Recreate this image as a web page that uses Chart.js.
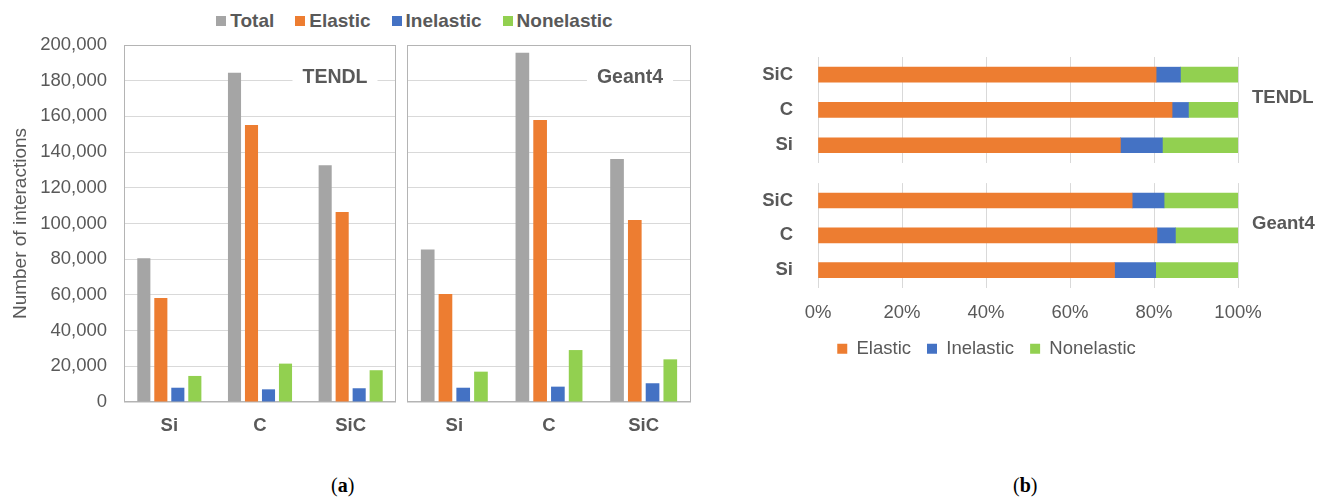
<!DOCTYPE html>
<html>
<head>
<meta charset="utf-8">
<script src="https://cdn.jsdelivr.net/npm/chart.js@4.4.1/dist/chart.umd.min.js"></script>
<style>
  body { margin: 0; background: #fff; width: 1327px; height: 497px; position: relative; overflow: hidden;
         font-family: "Liberation Sans", Arial, sans-serif; }
  .box { position: absolute; }
  #legendA { position: absolute; top: 10px; left: 0; width: 829px; text-align: center;
             font-weight: bold; font-size: 19px; color: #595959; white-space: nowrap; }
  #legendA span.item { margin: 0 10.5px; }
  #legendA span.sw { display: inline-block; width: 10px; height: 10px; margin-right: 4px; vertical-align: 1px; }
  .cap { position: absolute; top: 474px; font-family: "Liberation Serif", "DejaVu Serif", serif; font-size: 20px; color: #000; }
</style>
</head>
<body>
<div id="legendA"></div>
<div class="box" style="left:0;top:0;width:400px;height:446px"><canvas id="tendlCount"></canvas></div>
<div class="box" style="left:400px;top:0;width:300px;height:446px"><canvas id="geantCount"></canvas></div>
<div class="box" style="left:735px;top:0;width:587px;height:191px"><canvas id="tendlPct"></canvas></div>
<div class="box" style="left:735px;top:155px;width:587px;height:221px"><canvas id="geantPct"></canvas></div>
<div class="cap" style="left:331px">(<b>a</b>)</div>
<div class="cap" style="left:1013px">(<b>b</b>)</div>

<script>
var categories = ['Si', 'C', 'SiC'];
var seriesNames = ['Total', 'Elastic', 'Inelastic', 'Nonelastic'];
var seriesColors = ['#a5a5a5', '#ed7d31', '#4472c4', '#92d050'];

// (a) number of interactions
var tendlTotal = [80500, 184500, 132600];
var tendlElastic = [58300, 155200, 106400];
var tendlInelastic = [8000, 7100, 7700];
var tendlNonelastic = [14600, 21500, 17800];

var geantTotal = [85500, 195700, 136100];
var geantElastic = [60500, 158000, 102000];
var geantInelastic = [8000, 8600, 10500];
var geantNonelastic = [17000, 29100, 23900];

// (b) share of each interaction type, %
var tendlElasticPct = [72.0, 84.3, 80.5];
var tendlInelasticPct = [10.0, 3.9, 5.8];
var tendlNonelasticPct = [18.0, 11.8, 13.7];

var geantElasticPct = [70.6, 80.7, 74.8];
var geantInelasticPct = [9.8, 4.4, 7.6];
var geantNonelasticPct = [19.6, 14.9, 17.6];

var FONT = '"Liberation Sans", Arial, sans-serif';
var GREY = '#595959';
Chart.defaults.font.family = FONT;
Chart.defaults.color = GREY;

// top legend for panel (a)
var legendA = document.getElementById('legendA');
seriesNames.forEach(function (name, i) {
  legendA.innerHTML += '<span class="item"><span class="sw" style="background:' + seriesColors[i] + '"></span>' + name + '</span>';
});

// grey frame around the plot area
var frame = {
  id: 'frame',
  beforeDatasetsDraw: function (chart) {
    var a = chart.chartArea, ctx = chart.ctx;
    ctx.save();
    ctx.strokeStyle = '#b4b4b4';
    ctx.lineWidth = 1;
    ctx.strokeRect(a.left + 0.5, a.top + 0.5, a.width - 1, a.height - 1);
    ctx.restore();
  }
};

// TENDL / Geant4 label
var groupLabel = {
  id: 'groupLabel',
  afterDraw: function (chart, args, opts) {
    var a = chart.chartArea, ctx = chart.ctx;
    ctx.save();
    ctx.font = 'bold ' + opts.size + 'px ' + FONT;
    ctx.textBaseline = 'middle';
    var w = ctx.measureText(opts.text).width;
    var y = a.top + opts.dy;
    var x;
    if (opts.inside) {
      x = a.right - 61 - w / 2;
      ctx.fillStyle = '#fff';
      ctx.fillRect(x - 10, y - 11, w + 20, 22);
    } else {
      x = a.right + 14;
    }
    ctx.fillStyle = GREY;
    ctx.textAlign = 'left';
    ctx.fillText(opts.text, x, y);
    ctx.restore();
  }
};

function countChart(id, values, name, withAxis) {
  return new Chart(document.getElementById(id), {
    type: 'bar',
    data: {
      labels: categories,
      datasets: values.map(function (v, i) {
        return {
          label: seriesNames[i],
          data: v,
          backgroundColor: seriesColors[i],
          barPercentage: 0.77,
          categoryPercentage: 0.75
        };
      })
    },
    options: {
      responsive: true,
      maintainAspectRatio: false,
      animation: false,
      layout: { padding: { top: 45, bottom: 10, left: withAxis ? 0 : 7, right: withAxis ? 4 : 9 } },
      plugins: {
        legend: { display: false },
        tooltip: { enabled: false },
        groupLabel: { text: name, inside: true, dy: 33, size: 19.5 }
      },
      scales: {
        x: {
          grid: { display: false, drawTicks: false },
          border: { display: false },
          ticks: { padding: 13, color: GREY, font: { size: 18.5, weight: 'bold' } },
          afterFit: function (s) { s.height = 34; }
        },
        y: {
          min: 0,
          max: 200000,
          grid: { color: '#d9d9d9', drawTicks: false },
          border: { display: false },
          ticks: {
            display: withAxis,
            stepSize: 20000,
            padding: 17,
            color: GREY,
            font: { size: 18.5 },
            callback: function (v) { return v.toLocaleString('en-US'); }
          },
          title: {
            display: withAxis,
            text: 'Number of interactions',
            color: GREY,
            font: { size: 19 },
            padding: { top: 9, bottom: 0 }
          },
          afterFit: function (s) { s.width = withAxis ? 124 : 0; }
        }
      }
    },
    plugins: [frame, groupLabel]
  });
}

countChart('tendlCount', [tendlTotal, tendlElastic, tendlInelastic, tendlNonelastic], 'TENDL', true);
countChart('geantCount', [geantTotal, geantElastic, geantInelastic, geantNonelastic], 'Geant4', false);

function pctChart(id, values, name, bottom) {
  return new Chart(document.getElementById(id), {
    type: 'bar',
    data: {
      labels: categories,
      datasets: values.map(function (v, i) {
        return {
          label: seriesNames[i + 1],
          data: v,
          backgroundColor: seriesColors[i + 1],
          barThickness: 15
        };
      })
    },
    options: {
      indexAxis: 'y',
      responsive: true,
      maintainAspectRatio: false,
      animation: false,
      layout: { padding: bottom ? { top: 7, bottom: 8, left: 0, right: 84 } : { top: 57, bottom: 7, left: 0, right: 84 } },
      plugins: {
        legend: {
          display: bottom,
          position: 'bottom',
          labels: { boxWidth: 10, boxHeight: 10, padding: 16, color: GREY, font: { size: 18.5 } }
        },
        tooltip: { enabled: false },
        groupLabel: { text: name, inside: false, dy: 41, size: 18.5 }
      },
      scales: {
        x: {
          stacked: true,
          min: 0,
          max: 100,
          grid: { color: '#d9d9d9', drawTicks: false },
          border: { display: false },
          ticks: {
            display: bottom,
            stepSize: 20,
            padding: 14,
            color: GREY,
            font: { size: 18.5 },
            callback: function (v) { return v + '%'; }
          },
          afterFit: function (s) { s.height = bottom ? 36 : 0; }
        },
        y: {
          stacked: true,
          reverse: true,
          grid: { display: false },
          border: { display: false },
          ticks: { autoSkip: false, padding: 17, color: GREY, font: { size: 18.5, weight: 'bold' } },
          afterFit: function (s) { s.width = 83; }
        }
      }
    },
    plugins: [groupLabel]
  });
}

pctChart('tendlPct', [tendlElasticPct, tendlInelasticPct, tendlNonelasticPct], 'TENDL', false);
pctChart('geantPct', [geantElasticPct, geantInelasticPct, geantNonelasticPct], 'Geant4', true);
</script>
</body>
</html>
